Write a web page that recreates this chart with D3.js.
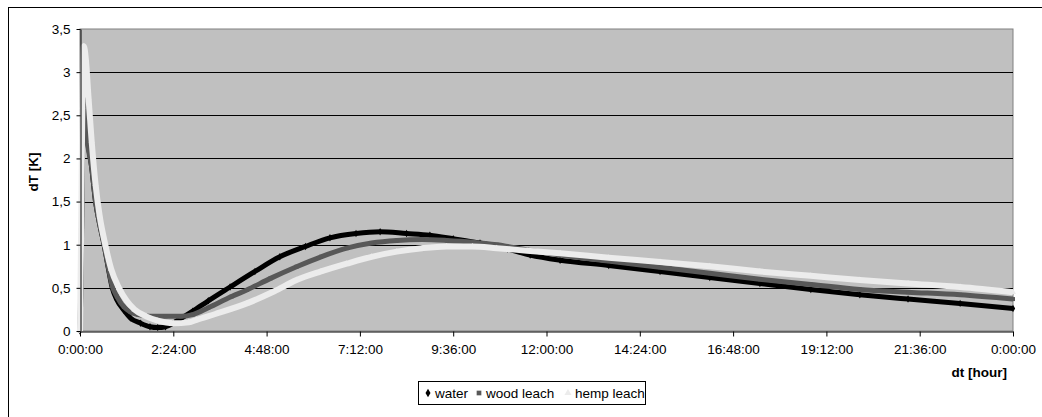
<!DOCTYPE html>
<html>
<head>
<meta charset="utf-8">
<script src="https://cdn.jsdelivr.net/npm/d3@7"></script>
<style>
  body { margin: 0; background: #fff; }
  svg { display: block; font-family: 'Liberation Sans', Arial, sans-serif; }
</style>
</head>
<body>
<svg id="chart" width="1042" height="417"></svg>
<script>
// series: [hours, dT]
var water = [
  [0, 0], [0.02, 0.4], [0.05, 1.5], [0.08, 2.8], [0.12, 2.55], [0.2, 2.2], [0.3, 1.9],
  [0.4, 1.5], [0.5, 1.25], [0.62, 1.0], [0.72, 0.75], [0.83, 0.5], [0.95, 0.36],
  [1.13, 0.24], [1.3, 0.15], [1.56, 0.09], [1.8, 0.05], [2.0, 0.04], [2.2, 0.05],
  [2.5, 0.12], [2.9, 0.23], [3.3, 0.35], [3.86, 0.51], [4.5, 0.69], [5.14, 0.86],
  [5.8, 0.98], [6.43, 1.08], [7.1, 1.13], [7.72, 1.15], [8.4, 1.13], [9.0, 1.11],
  [9.6, 1.07], [10.29, 1.02], [11.0, 0.95], [11.58, 0.88], [12.35, 0.82], [13.6, 0.76],
  [14.92, 0.69], [16.2, 0.62], [17.49, 0.55], [18.8, 0.48], [20.06, 0.42], [21.3, 0.37],
  [22.64, 0.32], [24, 0.26]
]
var wood = [
  [0, 0], [0.03, 0.8], [0.06, 2.0], [0.1, 2.65], [0.14, 2.4], [0.2, 2.15], [0.3, 1.9],
  [0.4, 1.5], [0.5, 1.25], [0.62, 1.0], [0.72, 0.76], [0.83, 0.52], [0.95, 0.4],
  [1.13, 0.28], [1.3, 0.22], [1.5, 0.19], [1.8, 0.17], [2.2, 0.17], [2.6, 0.17],
  [2.9, 0.19], [3.3, 0.27], [3.9, 0.4], [4.29, 0.475], [4.9, 0.61], [5.57, 0.745],
  [6.2, 0.86], [6.86, 0.96], [7.5, 1.02], [8.15, 1.05], [8.8, 1.06], [9.43, 1.05],
  [10.1, 1.03], [10.72, 1.0], [11.5, 0.94], [12.35, 0.88], [13.6, 0.81], [14.92, 0.74],
  [16.2, 0.67], [17.49, 0.6], [18.8, 0.54], [20.06, 0.48], [21.3, 0.45], [22.64, 0.42],
  [24, 0.37]
]
var hemp = [
  [0, 0], [0.03, 1.2], [0.06, 2.6], [0.1, 3.3], [0.15, 3.15], [0.22, 2.7], [0.3, 2.2],
  [0.4, 1.7], [0.5, 1.35], [0.65, 1.0], [0.8, 0.72], [1.0, 0.5], [1.2, 0.35],
  [1.4, 0.25], [1.7, 0.17], [2.0, 0.12], [2.4, 0.09], [2.8, 0.1], [3.0, 0.13],
  [3.5, 0.2], [4.29, 0.32], [5.0, 0.46], [5.57, 0.59], [6.2, 0.69], [6.86, 0.78],
  [7.5, 0.86], [8.15, 0.92], [8.8, 0.96], [9.43, 0.98], [10.1, 0.98], [10.72, 0.96],
  [11.5, 0.93], [12.35, 0.9], [13.6, 0.85], [14.92, 0.8], [16.2, 0.75], [17.49, 0.69],
  [18.8, 0.64], [20.06, 0.59], [21.3, 0.55], [22.64, 0.51], [24, 0.45]
]

var seriesNames = ['water', 'wood leach', 'hemp leach']
var seriesColors = ['#000000', '#585858', '#ececec']
var seriesSymbols = [d3.symbolDiamond, d3.symbolSquare, d3.symbolTriangle]

var xTickHours = [0, 2.4, 4.8, 7.2, 9.6, 12, 14.4, 16.8, 19.2, 21.6, 24]
var xTickLabels = ['0:00:00', '2:24:00', '4:48:00', '7:12:00', '9:36:00', '12:00:00',
  '14:24:00', '16:48:00', '19:12:00', '21:36:00', '0:00:00']
var yTicks = [0, 0.5, 1, 1.5, 2, 2.5, 3, 3.5]

var svg = d3.select('#chart')

// outer chart border (runs off the picture at right and bottom)
svg.append('rect')
  .attr('x', 8.5).attr('y', 7.5)
  .attr('width', 1100).attr('height', 500)
  .attr('fill', '#fff').attr('stroke', '#000')

var plotLeft = 80, plotRight = 1013, plotTop = 29, plotBottom = 331

var x = d3.scaleLinear().domain([0, 24]).range([plotLeft, plotRight])
var y = d3.scaleLinear().domain([0, 3.5]).range([plotBottom, plotTop])

// plot area
svg.append('rect')
  .attr('x', plotLeft).attr('y', plotTop)
  .attr('width', plotRight - plotLeft).attr('height', plotBottom - plotTop)
  .attr('fill', '#c0c0c0').attr('stroke', '#808080')

// gridlines
svg.append('g')
  .selectAll('line')
  .data(yTicks.filter(d => d > 0 && d < 3.5))
  .enter()
  .append('line')
  .attr('x1', plotLeft).attr('x2', plotRight)
  .attr('y1', d => Math.round(y(d)) + 0.5).attr('y2', d => Math.round(y(d)) + 0.5)
  .attr('stroke', '#000')

// series: dense markers look like a thick band
var line = d3.line()
  .x(d => x(d[0]))
  .y(d => y(d[1]))
  .curve(d3.curveMonotoneX)

var allSeries = [water, wood, hemp]
allSeries.forEach(function(s, i) {
  var g = svg.append('g')
  g.append('path')
    .attr('d', line(s))
    .attr('fill', 'none')
    .attr('stroke', seriesColors[i])
    .attr('stroke-width', i == 2 ? 6 : 5)
    .attr('stroke-linejoin', 'round')
  g.selectAll('path.pt')
    .data(s)
    .enter()
    .append('path')
    .attr('class', 'pt')
    .attr('transform', d => 'translate(' + x(d[0]) + ',' + y(d[1]) + ')')
    .attr('d', d3.symbol().type(seriesSymbols[i]).size(16))
    .attr('fill', seriesColors[i])
})

// axes
svg.append('g')
  .attr('transform', 'translate(' + (plotLeft + 0.5) + ',0)')
  .call(d3.axisLeft(y)
    .tickValues(yTicks)
    .tickSize(4)
    .tickSizeOuter(0)
    .tickPadding(6)
    .tickFormat(d => String(d).replace('.', ',')))

svg.append('g')
  .attr('transform', 'translate(0,' + (plotBottom + 0.5) + ')')
  .call(d3.axisBottom(x)
    .tickValues(xTickHours)
    .tickSize(5)
    .tickSizeOuter(0)
    .tickPadding(8)
    .tickFormat((d, i) => xTickLabels[i]))

svg.selectAll('.tick text')
  .attr('font-size', '13.5px')
  .attr('font-family', "'Liberation Sans', Arial, sans-serif")
  .attr('fill', '#000')
svg.selectAll('.domain, .tick line').attr('stroke', '#000')

// axis titles
svg.append('text')
  .attr('transform', 'translate(38,172) rotate(-90)')
  .attr('text-anchor', 'middle')
  .attr('font-size', '13.5px')
  .attr('font-weight', 'bold')
  .text('dT [K]')

svg.append('text')
  .attr('x', 1007)
  .attr('y', 377)
  .attr('text-anchor', 'end')
  .attr('font-size', '13.5px')
  .attr('font-weight', 'bold')
  .text('dt [hour]')

// legend
var legend = svg.append('g')
legend.append('rect')
  .attr('x', 418.5).attr('y', 381.5)
  .attr('width', 227).attr('height', 23)
  .attr('fill', '#fff').attr('stroke', '#000')

var legendX = [428, 479, 568]
seriesNames.forEach(function(name, i) {
  legend.append('path')
    .attr('transform', 'translate(' + legendX[i] + ',393)')
    .attr('d', d3.symbol().type(seriesSymbols[i]).size(22))
    .attr('fill', seriesColors[i])
  legend.append('text')
    .attr('x', legendX[i] + 7)
    .attr('y', 398)
    .attr('font-size', '13.5px')
    .text(name)
})
</script>
</body>
</html>
